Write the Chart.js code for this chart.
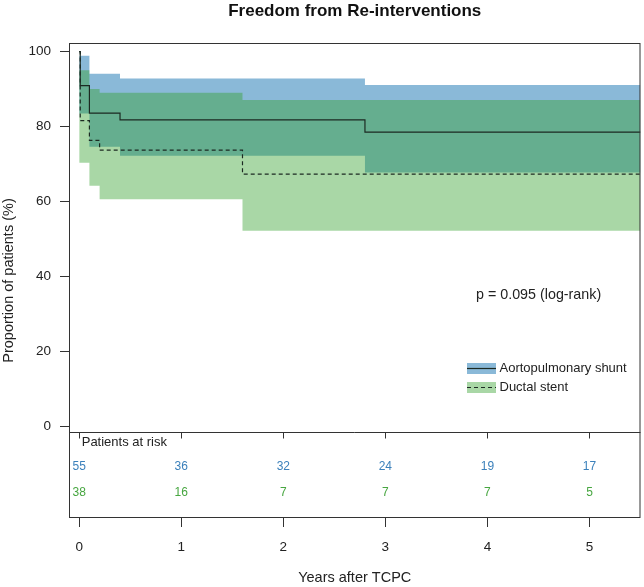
<!DOCTYPE html>
<html lang="en">
<head>
<meta charset="UTF-8">
<title>Freedom from Re-interventions</title>
<style>
  html, body { margin:0; padding:0; background:#fff; }
  #wrap { width:644px; height:587px; }
</style>
</head>
<body>
<div id="wrap"><canvas id="km-chart" width="644" height="587"></canvas></div>
<script src="https://cdn.jsdelivr.net/npm/chart.js"></script>
<script>
  // Kaplan-Meier estimates (years after TCPC, %)
  const apTime = [0, 0.01, 0.1, 0.4, 2.8, 5.5];
  const apSurv = [100, 90.9, 83.6, 81.8, 78.5, 78.5];
  const dsTime = [0, 0.01, 0.1, 0.2, 1.6, 5.5];
  const dsSurv = [100, 81.6, 76.3, 73.7, 67.3, 67.3];

  // confidence bands
  const apBandTime = [0, 0.1, 0.4, 2.8, 5.5];
  const apUpper = [98.9, 94.1, 92.8, 91.1, 91.1];
  const apLower = [83.5, 74.6, 72.2, 67.7, 67.7];
  const dsBandTime = [0, 0.1, 0.2, 1.6, 5.5];
  const dsUpper = [95.0, 90.0, 89.0, 87.1, 87.1];
  const dsLower = [70.3, 64.2, 60.6, 52.2, 52.2];

  const xTicks = [0, 1, 2, 3, 4, 5];
  const yTicks = [0, 20, 40, 60, 80, 100];

  // patients at risk table
  const riskYears = [0, 1, 2, 3, 4, 5];
  const riskAP = [55, 36, 32, 24, 19, 17];
  const riskDS = [38, 16, 7, 7, 7, 5];

  const groupNames = ['Aortopulmonary shunt', 'Ductal stent'];
  const pText = 'p = 0.095 (log-rank)';

  const FONT = '"Liberation Sans", Arial, sans-serif';
  const apFill = 'rgba(31,120,180,0.52)';
  const dsFill = 'rgba(51,160,44,0.42)';
  const apText = '#3b80bb';
  const dsText = '#47a640';
  const lineCol = '#1c2a22';

  Chart.defaults.font.family = FONT;
  Chart.defaults.color = '#222';

  const pts = (xs, ys) => xs.map((t, i) => ({ x: t, y: ys[i] }));

  const bandLine = { pointRadius: 0, borderWidth: 0, borderColor: 'rgba(0,0,0,0)', stepped: true, tension: 0 };

  // box, risk table, p-value and legend
  const overlay = {
    id: 'overlay',
    afterDatasetsDraw(chart) {
      const { ctx, chartArea: a, scales: { x, y } } = chart;
      ctx.save();
      ctx.strokeStyle = '#333';
      ctx.lineWidth = 1;
      ctx.strokeRect(a.left + 0.5, a.top + 0.5, a.right - a.left - 1, a.bottom - a.top - 1);

      const yDiv = Math.round(y.getPixelForValue(-1.55)) + 0.5;
      ctx.beginPath();
      ctx.moveTo(a.left, yDiv);
      ctx.lineTo(a.right, yDiv);
      xTicks.forEach(t => {
        const px = Math.round(x.getPixelForValue(t)) + 0.5;
        ctx.moveTo(px, yDiv);
        ctx.lineTo(px, yDiv + 6);
      });
      ctx.stroke();

      ctx.fillStyle = '#222';
      ctx.font = '13px ' + FONT;
      ctx.textAlign = 'left';
      ctx.textBaseline = 'middle';
      ctx.fillText('Patients at risk', x.getPixelForValue(0) + 2.5, yDiv + 9.5);

      ctx.font = '12px ' + FONT;
      ctx.textAlign = 'center';
      riskYears.forEach((t, i) => {
        const px = x.getPixelForValue(t);
        ctx.fillStyle = apText;
        ctx.fillText(riskAP[i], px, yDiv + 34.5);
        ctx.fillStyle = dsText;
        ctx.fillText(riskDS[i], px, yDiv + 60);
      });

      // p value
      ctx.fillStyle = '#222';
      ctx.font = '14.3px ' + FONT;
      ctx.textAlign = 'left';
      ctx.fillText(pText, 476, 295);

      // legend
      const fills = [apFill, dsFill];
      const dashes = [[], [4, 3]];
      groupNames.forEach((name, i) => {
        const bx = 467, by = 363 + i * 19, bw = 29, bh = 11;
        ctx.fillStyle = fills[i];
        ctx.fillRect(bx, by, bw, bh);
        ctx.strokeStyle = lineCol;
        ctx.lineWidth = 1.2;
        ctx.setLineDash(dashes[i]);
        ctx.beginPath();
        ctx.moveTo(bx, by + bh / 2);
        ctx.lineTo(bx + bw, by + bh / 2);
        ctx.stroke();
        ctx.setLineDash([]);
        ctx.fillStyle = '#222';
        ctx.font = '13px ' + FONT;
        ctx.fillText(name, 499.5, by + bh / 2);
      });
      ctx.restore();
    }
  };

  new Chart(document.getElementById('km-chart').getContext('2d'), {
    type: 'line',
    data: {
      datasets: [
        { ...bandLine, data: pts(apBandTime, apUpper), fill: false, order: 3 },
        { ...bandLine, data: pts(apBandTime, apLower), fill: '-1', backgroundColor: apFill, order: 3 },
        { ...bandLine, data: pts(dsBandTime, dsUpper), fill: false, order: 2 },
        { ...bandLine, data: pts(dsBandTime, dsLower), fill: '-1', backgroundColor: dsFill, order: 2 },
        { label: groupNames[0], data: pts(apTime, apSurv), borderColor: lineCol, borderWidth: 1.2,
          pointRadius: 0, stepped: true, fill: false, order: 1 },
        { label: groupNames[1], data: pts(dsTime, dsSurv), borderColor: lineCol, borderWidth: 1.2,
          borderDash: [4, 3], pointRadius: 0, stepped: true, fill: false, order: 1 }
      ]
    },
    options: {
      responsive: false,
      animation: false,
      layout: { padding: { right: 3.5 } },
      plugins: {
        legend: { display: false },
        tooltip: { enabled: false },
        title: {
          display: true,
          fullSize: false,
          text: 'Freedom from Re-interventions',
          color: '#111',
          font: { size: 17, weight: 'bold' },
          padding: { top: 1, bottom: 21.6 }
        }
      },
      scales: {
        x: {
          type: 'linear',
          min: -0.1,
          max: 5.5,
          afterBuildTicks: s => { s.ticks = xTicks.map(v => ({ value: v })); },
          afterFit: s => { s.height = 69; },
          grid: { drawOnChartArea: false, drawTicks: true, tickLength: 9, color: '#333' },
          border: { display: false },
          ticks: { font: { size: 13.5 }, color: '#222', padding: 12, maxRotation: 0 },
          title: { display: true, text: 'Years after TCPC', font: { size: 14.5 }, color: '#222', padding: { top: 0.5, bottom: 0 } }
        },
        y: {
          min: -24.5,
          max: 102.3,
          afterBuildTicks: s => { s.ticks = yTicks.map(v => ({ value: v })); },
          afterFit: s => { s.width = 69; },
          grid: { drawOnChartArea: false, drawTicks: true, tickLength: 9, color: '#333' },
          border: { display: false },
          ticks: { font: { size: 13.5 }, color: '#222', padding: 9 },
          title: { display: true, text: 'Proportion of patients (%)', font: { size: 14.5 }, color: '#222', padding: { top: 0.5, bottom: 0 } }
        }
      }
    },
    plugins: [overlay]
  });
</script>
</body>
</html>
